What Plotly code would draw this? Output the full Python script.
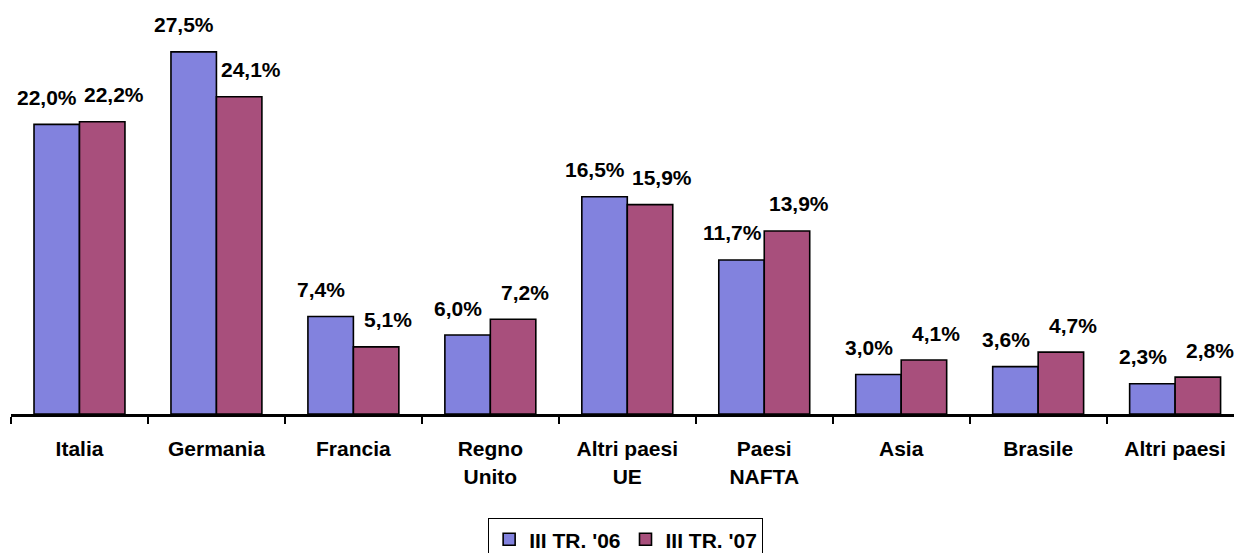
import plotly.graph_objects as go

categories = ["Italia", "Germania", "Francia", "Regno<br>Unito", "Altri paesi<br>UE",
              "Paesi<br>NAFTA", "Asia", "Brasile", "Altri paesi"]
series_06 = [22.0, 27.5, 7.4, 6.0, 16.5, 11.7, 3.0, 3.6, 2.3]
series_07 = [22.2, 24.1, 5.1, 7.2, 15.9, 13.9, 4.1, 4.7, 2.8]
names = ["III TR. '06", "III TR. '07"]
colors = ["#8282DE", "#A84F7C"]

font_family = "Liberation Sans, Arial, sans-serif"
bold = dict(family=font_family, size=21, color="black", weight="bold")
label_font = dict(family=font_family, size=21, color="black", weight="bold")

# label placement style: pixel offset of each series' labels from its bar centre
bar_half_offset = 23
label_xshift = [-bar_half_offset - 9, bar_half_offset + 12]
label_yshift = 27

fig = go.Figure()
for vals, name, col in zip([series_06, series_07], names, colors):
    fig.add_trace(go.Bar(
        x=categories, y=vals, name=name,
        marker=dict(color=col, line=dict(color="black", width=1.6)),
        cliponaxis=False,
    ))

for vals, xs in zip([series_06, series_07], label_xshift):
    for c, v in zip(categories, vals):
        fig.add_annotation(
            x=c, y=v, xref="x", yref="y", text=f"{v:.1f}%".replace(".", ","),
            showarrow=False, xshift=xs, yshift=label_yshift,
            font=label_font, xanchor="center", yanchor="middle",
        )

fig.update_layout(
    width=1234, height=553,
    margin=dict(l=11, r=0, t=19, b=139),
    paper_bgcolor="white", plot_bgcolor="white",
    separators=",.",
    barmode="group", bargap=0.336, bargroupgap=0,
    font=bold,
    showlegend=True,
    legend=dict(orientation="h", xref="container", yref="container",
                x=0.507, xanchor="center", y=0.063, yanchor="top",
                bordercolor="black", borderwidth=1, font=bold,
                itemwidth=30),
    xaxis=dict(type="category", range=[-0.5, 8.43], showline=True, linecolor="black",
               linewidth=3, ticks="outside", tickson="boundaries", ticklen=7,
               tickwidth=2, tickcolor="black", showgrid=False, tickfont=bold,
               ticklabelstandoff=14),
    yaxis=dict(range=[0, 30], visible=False, showgrid=False, zeroline=False),
)

fig.write_html(
    "out.html",
    config={"displayModeBar": False},
    post_script="document.body.style.margin='0';document.body.style.overflow='hidden';",
)
